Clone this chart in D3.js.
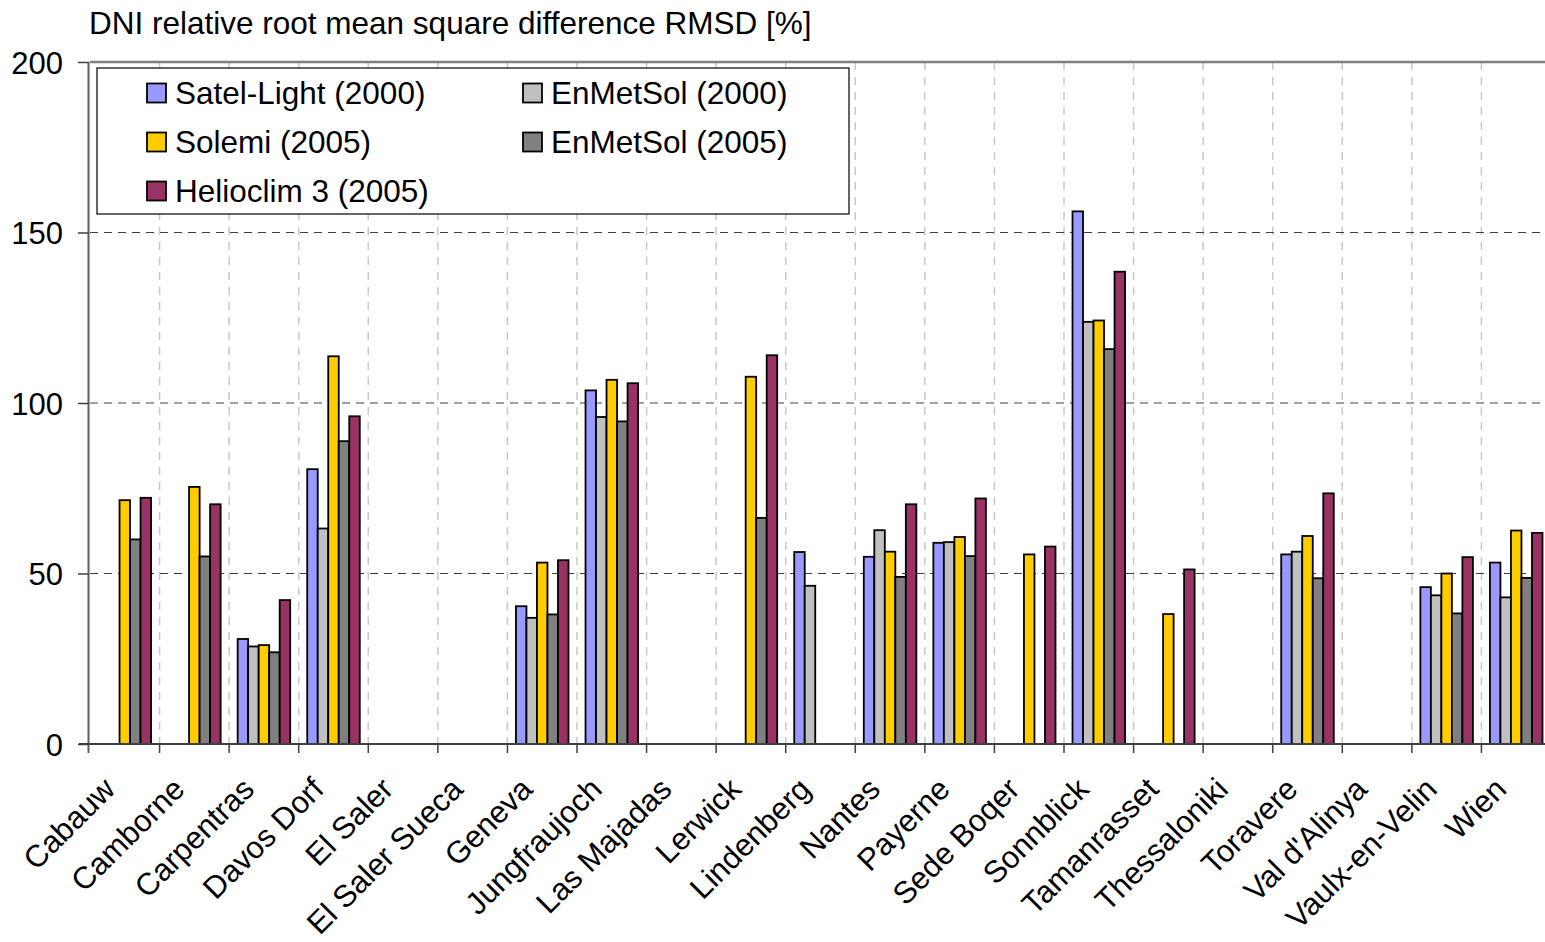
<!DOCTYPE html>
<html><head><meta charset="utf-8">
<script src="https://cdn.jsdelivr.net/npm/d3@7"></script>
<style>
html,body{margin:0;padding:0;background:#fff;}
svg text{font-family:"Liberation Sans",Arial,sans-serif;fill:#000;}
</style></head>
<body>
<svg id="chart" width="1545" height="942"></svg>
<script>
const categories = ["Cabauw","Camborne","Carpentras","Davos Dorf","El Saler","El Saler Sueca","Geneva","Jungfraujoch","Las Majadas","Lerwick","Lindenberg","Nantes","Payerne","Sede Boqer","Sonnblick","Tamanrasset","Thessaloniki","Toravere","Val d'Alinya","Vaulx-en-Velin","Wien"];
const seriesNames = ["Satel-Light (2000)","EnMetSol (2000)","Solemi (2005)","EnMetSol (2005)","Helioclim 3 (2005)"];
const seriesColors = ["#9999FF","#C0C0C0","#FFCC00","#808080","#993366"];
const satelLight2000 = [null,null,30.8,80.6,null,null,40.4,103.7,null,null,56.3,54.9,59.0,null,156.2,null,null,55.6,null,46.0,53.2];
const enMetSol2000   = [null,null,28.6,63.2,null,null,37.0,95.9,null,null,46.4,62.7,59.2,null,123.8,null,null,56.4,null,43.6,43.0];
const solemi2005     = [71.5,75.4,29.0,113.7,null,null,53.2,106.8,null,107.7,null,56.4,60.7,55.6,124.2,38.1,null,61.0,null,50.0,62.6];
const enMetSol2005   = [60.0,55.0,26.9,88.8,null,null,38.0,94.6,null,66.3,null,49.0,55.1,null,115.8,null,null,48.6,null,38.3,48.7];
const helioclim2005  = [72.2,70.3,42.2,96.1,null,null,53.9,105.8,null,114.0,null,70.3,72.0,57.9,138.5,51.2,null,73.5,null,54.8,61.9];
const yTicks = [0,50,100,150,200];
const title = "DNI relative root mean square difference RMSD [%]";

const seriesValues = [satelLight2000, enMetSol2000, solemi2005, enMetSol2005, helioclim2005];
const svg = d3.select("#chart");
const L = 90, R = 1551, T = 62, B = 744;

const x0 = d3.scaleBand().domain(categories).range([L, R]).paddingInner(0).paddingOuter(0);
const x1 = d3.scaleBand().domain(seriesNames).range([0, x0.bandwidth()]).paddingInner(0).paddingOuter(0.81);
const y = d3.scaleLinear().domain([0, 200]).range([B, T]);

// vertical gridlines
svg.append("g").selectAll("line").data(categories.slice(1)).join("line")
  .attr("x1", d => x0(d)).attr("x2", d => x0(d))
  .attr("y1", T).attr("y2", B)
  .attr("stroke", "#c8c8c8").attr("stroke-width", 1.5).attr("stroke-dasharray", "8,7");

// horizontal gridlines
svg.append("g").selectAll("line").data(yTicks.filter(v => v > 0 && v < 200)).join("line")
  .attr("x1", L).attr("x2", R).attr("y1", d => y(d)).attr("y2", d => y(d))
  .attr("stroke", "#404040").attr("stroke-width", 1.2).attr("stroke-dasharray", "8,6");

// top border
svg.append("line").attr("x1", L).attr("x2", R).attr("y1", y(200)).attr("y2", y(200))
  .attr("stroke", "#808080").attr("stroke-width", 2.5);

// bars
const rows = [];
categories.forEach((c, i) => seriesNames.forEach((s, j) => {
  const v = seriesValues[j][i];
  if (v != null) rows.push({c, s, v, color: seriesColors[j]});
}));
svg.append("g").selectAll("rect").data(rows).join("rect")
  .attr("x", d => x0(d.c) + x1(d.s))
  .attr("y", d => y(d.v))
  .attr("width", x1.bandwidth())
  .attr("height", d => y(0) - y(d.v))
  .attr("fill", d => d.color)
  .attr("stroke", "#000").attr("stroke-width", 1.8);

// y axis
const yAxis = d3.axisLeft(y).tickValues(yTicks).tickSize(11).tickPadding(15);
const gy = svg.append("g").attr("transform", `translate(${L - 1},0)`).call(yAxis);
gy.select(".domain").attr("stroke", "#606060").attr("stroke-width", 2).attr("d", `M-0.5,${T}V${B + 9}`);
gy.selectAll(".tick line").attr("stroke", "#404040").attr("stroke-width", 1.5);
gy.selectAll(".tick text").attr("font-size", 31).attr("font-family", "Liberation Sans, Arial, sans-serif").attr("fill", "#000").attr("dy", "0.36em");

// x axis
const gx = svg.append("g").attr("transform", `translate(0,${B})`);
gx.append("line").attr("x1", L - 11).attr("x2", R).attr("y1", 0).attr("y2", 0).attr("stroke", "#404040").attr("stroke-width", 2);
gx.selectAll("line.tk").data(categories.slice(1)).join("line").attr("class", "tk")
  .attr("x1", d => x0(d)).attr("x2", d => x0(d)).attr("y1", 0).attr("y2", 9)
  .attr("stroke", "#404040").attr("stroke-width", 1.5);
gx.selectAll("text").data(categories).join("text")
  .attr("transform", d => `translate(${x0(d) + x0.bandwidth() / 2 - 8},${47}) rotate(-45)`)
  .attr("text-anchor", "end")
  .attr("font-size", 31)
  .text(d => d);

// title
svg.append("text").attr("x", 89).attr("y", 34).attr("font-size", 31.5).text(title);

// legend
const lg = svg.append("g");
lg.append("rect").attr("x", 97).attr("y", 68).attr("width", 752).attr("height", 146)
  .attr("fill", "#fff").attr("stroke", "#000").attr("stroke-width", 1.2);
const legendPos = [[147, 93], [523, 93], [147, 142], [523, 142], [147, 191]];
const li = lg.selectAll("g").data(seriesNames).join("g")
  .attr("transform", (d, i) => `translate(${legendPos[i][0]},${legendPos[i][1]})`);
li.append("rect").attr("x", 0).attr("y", -9.5).attr("width", 19).attr("height", 19)
  .attr("fill", (d, i) => seriesColors[i]).attr("stroke", "#000").attr("stroke-width", 1.8);
li.append("text").attr("x", 28).attr("y", 11).attr("font-size", 31.5).text(d => d);
</script>
</body></html>
